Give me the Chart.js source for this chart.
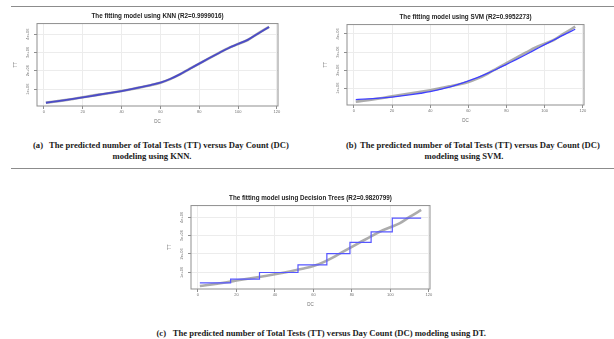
<!DOCTYPE html>
<html>
<head>
<meta charset="utf-8">
<script src="https://cdn.jsdelivr.net/npm/chart.js@4.4.1/dist/chart.umd.min.js"></script>
<style>
  html, body { margin: 0; padding: 0; background: #fff; }
  #page { position: relative; width: 614px; height: 339px; overflow: hidden; }
  canvas { position: absolute; }
  .rule { position: absolute; left: 11px; width: 603px; height: 0; border-top: 1px solid #8c8c8c; }
  .cap { position: absolute; font: bold 8.6px "Liberation Serif", "Times New Roman", serif; color: #1a1a1a; line-height: 10px; white-space: nowrap; }
  .mid { width: 200px; text-align: center; }
</style>
</head>
<body>
<div id="page">
  <div class="rule" style="top:6px"></div>
  <div class="rule" style="top:168px"></div>

  <div class="cap" style="left:33px; top:140px">(a)</div>
  <div class="cap" style="left:49px; top:140px">The predicted number of Total Tests (TT) versus Day Count (DC)</div>
  <div class="cap mid" style="left:52px; top:150.5px">modeling using KNN.</div>

  <div class="cap" style="left:346px; top:140px">(b)</div>
  <div class="cap" style="left:360px; top:140px">The predicted number of Total Tests (TT) versus Day Count (DC)</div>
  <div class="cap mid" style="left:364px; top:150.5px">modeling using SVM.</div>

  <div class="cap" style="left:156.5px; top:328px">(c)</div>
  <div class="cap" style="left:172.7px; top:328px">The predicted number of Total Tests (TT) versus Day Count (DC) modeling using DT.</div>
</div>
<script>
// day count (DC) and actual total tests (TT), read every 5 days
const dayCount = [1, 5, 10, 15, 20, 25, 30, 35, 40, 45, 50, 55, 60, 65, 70, 75, 80, 85, 90, 95, 100, 105, 110, 116];
const totalTests = [250000, 310000, 380000, 460000, 550000, 640000, 720000, 800000, 890000, 990000, 1100000, 1210000,
  1340000, 1540000, 1800000, 2100000, 2390000, 2680000, 2960000, 3240000, 3460000, 3680000, 4020000, 4400000];

// model predictions
const knnPredicted = [250000, 310000, 380000, 460000, 550000, 630000, 720000, 800000, 890000, 990000, 1100000, 1220000,
  1350000, 1550000, 1800000, 2100000, 2390000, 2680000, 2960000, 3230000, 3460000, 3690000, 4010000, 4390000];
const svmPredicted = [370000, 390000, 420000, 460000, 510000, 570000, 640000, 720000, 810000, 930000, 1060000, 1220000,
  1400000, 1600000, 1820000, 2060000, 2320000, 2580000, 2850000, 3130000, 3410000, 3680000, 3950000, 4260000];
// decision tree: leaf start days and leaf values (step line)
const dtSplitDays = [1, 17, 32, 52, 67, 79, 90, 101, 116];
const dtPredicted = [420000, 630000, 990000, 1410000, 2020000, 2630000, 3200000, 3960000, 3960000];

const xTicks = [0, 20, 40, 60, 80, 100, 120];
const yTicks = [1000000, 2000000, 3000000, 4000000];

const FONT = '"Liberation Sans", Arial, sans-serif';
const Y_W = 26, X_H = 20, TITLE_H = 15.5, PAD_R = 3;

const toPoints = (xs, ys) => xs.map((x, i) => ({ x: x, y: ys[i] }));

// R style box round the plot region
const frame = {
  id: 'frame',
  afterDraw(chart) {
    const { ctx, chartArea: a } = chart;
    ctx.save();
    ctx.strokeStyle = '#8f8f8f';
    ctx.lineWidth = 1;
    ctx.strokeRect(a.left, a.top, a.right - a.left, a.bottom - a.top);
    ctx.restore();
  }
};

function makePanel(box, title, predX, predY, yRange, style) {
  const c = document.createElement('canvas');
  const left = box.l - Y_W, top = box.t - TITLE_H;
  const w = Math.round(box.r - left + PAD_R), h = Math.round(box.b - top + X_H);
  c.width = w; c.height = h;
  c.style.left = left + 'px'; c.style.top = top + 'px';
  c.style.width = w + 'px'; c.style.height = h + 'px';
  document.getElementById('page').appendChild(c);

  const grid = { color: '#ececec', tickColor: '#8f8f8f', tickLength: 3 };
  new Chart(c, {
    type: 'line',
    data: {
      datasets: [
        {
          label: 'Predicted',
          data: toPoints(predX, predY),
          borderColor: style.color,
          borderWidth: style.width,
          pointRadius: 0,
          stepped: style.stepped || false,
          cubicInterpolationMode: 'monotone',
          order: 0
        },
        {
          label: 'TT',
          data: toPoints(dayCount, totalTests),
          borderColor: 'rgba(140,140,140,0.72)',
          borderWidth: 2.6,
          pointRadius: 0,
          cubicInterpolationMode: 'monotone',
          order: 1
        }
      ]
    },
    options: {
      responsive: false,
      animation: false,
      layout: { padding: { right: PAD_R } },
      plugins: {
        legend: { display: false },
        tooltip: { enabled: false },
        title: {
          display: true, text: title, fullSize: false, color: '#222',
          font: { family: FONT, size: 6.3, weight: 'bold', lineHeight: 1.2 },
          padding: { top: 4, bottom: 4 }
        }
      },
      scales: {
        x: {
          type: 'linear', min: -3.6, max: 120.6,
          afterBuildTicks: s => { s.ticks = xTicks.map(v => ({ value: v })); },
          afterFit: s => { s.height = X_H; },
          grid: grid, border: { display: false },
          ticks: { color: '#707070', font: { family: FONT, size: 4 }, padding: 0.6, maxRotation: 0, autoSkip: false },
          title: { display: true, text: 'DC', color: '#707070', font: { family: FONT, size: 4.5, lineHeight: 1.2 }, padding: { top: 0, bottom: 1.3 } }
        },
        y: {
          type: 'linear', min: yRange[0], max: yRange[1],
          afterBuildTicks: s => { s.ticks = yTicks.map(v => ({ value: v })); },
          afterFit: s => { s.width = Y_W; },
          grid: grid, border: { display: false },
          ticks: {
            color: '#707070', font: { family: FONT, size: 4 }, minRotation: 90, maxRotation: 90,
            crossAlign: 'center', padding: 0.7, autoSkip: false,
            callback: v => (v / 1000000) + 'e+06'
          },
          title: { display: true, text: 'TT', color: '#707070', font: { family: FONT, size: 4.5, lineHeight: 1.2 }, padding: { top: 2, bottom: 0 } }
        }
      }
    },
    plugins: [frame]
  });
}

makePanel({ l: 37.3, t: 23.3, r: 278, b: 106 }, 'The fitting model using KNN (R2=0.9999016)',
  dayCount, knnPredicted, [73000, 4580000], { color: '#4b4bc8', width: 1.8 });
makePanel({ l: 346.8, t: 24, r: 583.8, b: 104 }, 'The fitting model using SVM (R2=0.9952273)',
  dayCount, svmPredicted, [70000, 4520000], { color: '#3f3fff', width: 1.3 });
makePanel({ l: 190.8, t: 205, r: 430.2, b: 288.3 }, 'The fitting model using Decision Trees (R2=0.9820799)',
  dtSplitDays, dtPredicted, [90000, 4640000], { color: '#5656ff', width: 1.2, stepped: 'before' });
</script>
</body>
</html>
